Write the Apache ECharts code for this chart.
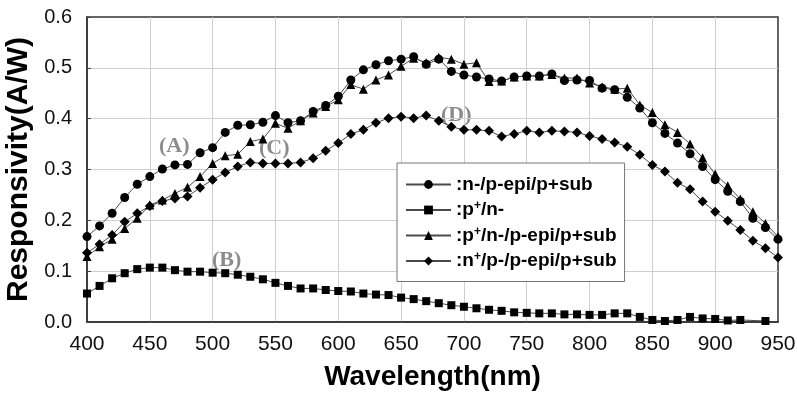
<!DOCTYPE html>
<html>
<head>
<meta charset="utf-8">
<script src="https://cdn.jsdelivr.net/npm/echarts@6/dist/echarts.min.js"></script>
<style>
  html, body { margin: 0; padding: 0; background: #fff; }
  #chart { width: 797px; height: 397px; }
</style>
</head>
<body>
<div id="chart"></div>
<script>
// wavelength (nm), one reading every 10 nm
var wavelength = [400, 410, 420, 430, 440, 450, 460, 470, 480, 490,
  500, 510, 520, 530, 540, 550, 560, 570, 580, 590,
  600, 610, 620, 630, 640, 650, 660, 670, 680, 690,
  700, 710, 720, 730, 740, 750, 760, 770, 780, 790,
  800, 810, 820, 830, 840, 850, 860, 870, 880, 890,
  900, 910, 920, 930, 940, 950];

// responsivity (A/W)
var nEpi = [0.168, 0.189, 0.214, 0.245, 0.271, 0.286, 0.301, 0.309, 0.310, 0.333,
  0.343, 0.373, 0.387, 0.388, 0.393, 0.406, 0.392, 0.396, 0.414, 0.426,
  0.444, 0.476, 0.496, 0.506, 0.514, 0.517, 0.522, 0.507, 0.517, 0.493,
  0.486, 0.482, 0.478, 0.474, 0.482, 0.484, 0.484, 0.488, 0.475, 0.476,
  0.475, 0.460, 0.457, 0.442, 0.421, 0.392, 0.371, 0.352, 0.331, 0.306,
  0.280, 0.257, 0.237, 0.204, 0.186, 0.163];

var pN = [0.056, 0.071, 0.086, 0.096, 0.104, 0.107, 0.107, 0.102, 0.099, 0.099,
  0.097, 0.096, 0.093, 0.089, 0.084, 0.077, 0.071, 0.066, 0.066, 0.063,
  0.061, 0.060, 0.056, 0.054, 0.053, 0.048, 0.045, 0.041, 0.037, 0.033,
  0.030, 0.027, 0.024, 0.022, 0.019, 0.018, 0.017, 0.017, 0.015, 0.015,
  0.014, 0.014, 0.017, 0.017, 0.010, 0.004, 0.002, 0.004, 0.010, 0.007,
  0.006, 0.003, 0.004, null, 0.002, null];

var pnEpi = [0.129, 0.148, 0.163, 0.184, 0.204, 0.230, 0.240, 0.253, 0.265, 0.286,
  0.312, 0.327, 0.330, 0.355, 0.360, 0.391, 0.381, 0.396, 0.411, 0.424,
  0.437, 0.467, 0.458, 0.476, 0.486, 0.503, 0.519, 0.510, 0.521, 0.517,
  0.507, 0.510, 0.473, 0.474, 0.482, 0.484, 0.484, 0.487, 0.480, 0.480,
  0.470, 0.463, 0.458, 0.460, 0.427, 0.412, 0.388, 0.373, 0.350, 0.323,
  0.291, 0.268, 0.242, 0.217, 0.194, 0.168];

var npEpi = [0.136, 0.153, 0.171, 0.197, 0.214, 0.228, 0.238, 0.243, 0.247, 0.264,
  0.280, 0.294, 0.306, 0.314, 0.312, 0.312, 0.312, 0.314, 0.322, 0.337,
  0.352, 0.370, 0.378, 0.392, 0.401, 0.404, 0.401, 0.406, 0.396, 0.384,
  0.378, 0.378, 0.376, 0.365, 0.370, 0.376, 0.373, 0.376, 0.375, 0.373,
  0.366, 0.360, 0.353, 0.345, 0.329, 0.309, 0.296, 0.274, 0.261, 0.237,
  0.217, 0.199, 0.181, 0.160, 0.145, 0.127];

var names = [':n-/p-epi/p+sub', ':p+/n-', ':p+/n-/p-epi/p+sub', ':n+/p-/p-epi/p+sub'];
var legendRich = {
  ':n-/p-epi/p+sub': '{t|:n-/p-epi/p+sub}',
  ':p+/n-': '{t|:p}{s|+}{t|/n-}',
  ':p+/n-/p-epi/p+sub': '{t|:p}{s|+}{t|/n-/p-epi/p+sub}',
  ':n+/p-/p-epi/p+sub': '{t|:n}{s|+}{t|/p-/p-epi/p+sub}'
};
var notes = ['(A)', '(B)', '(C)', '(D)'];

function pairs(vals) {
  return wavelength.map(function (w, i) { return [w, vals[i]]; });
}

function lineSeries(name, vals, symbol, size) {
  return {
    name: name,
    type: 'line',
    data: pairs(vals),
    symbol: symbol,
    symbolSize: size,
    connectNulls: true,
    lineStyle: { color: '#4a4a4a', width: 1 },
    itemStyle: { color: '#000' },
    emphasis: { disabled: true }
  };
}

var chart = echarts.init(document.getElementById('chart'));
var option = {
  animation: false,
  grid: {
    left: 87, right: 19, top: 17, bottom: 75,
    outerBoundsMode: 'none',
    show: true, borderColor: '#333', borderWidth: 1.5
  },
  legend: {
    data: names,
    orient: 'vertical',
    left: 397, top: 163,
    padding: [12, 8, 11, 8],
    itemGap: 6,
    itemWidth: 45, itemHeight: 11,
    backgroundColor: '#fff',
    borderColor: '#777', borderWidth: 1,
    formatter: function (name) { return legendRich[name]; },
    textStyle: {
      rich: {
        t: { fontFamily: 'Liberation Sans, Arial', fontWeight: 'bold', fontSize: 19, lineHeight: 20, color: '#000' },
        s: { fontFamily: 'Liberation Sans, Arial', fontWeight: 'bold', fontSize: 12, lineHeight: 20, verticalAlign: 'top', color: '#000' }
      }
    }
  },
  xAxis: {
    type: 'value',
    min: 400, max: 950, interval: 50,
    name: 'Wavelength(nm)',
    nameLocation: 'middle',
    nameGap: 41,
    nameTextStyle: { fontFamily: 'Liberation Sans, Arial', fontWeight: 'bold', fontSize: 28, color: '#000' },
    axisLine: { show: true, lineStyle: { color: '#333', width: 1.5 } },
    axisTick: { show: false },
    axisLabel: { margin: 12, fontFamily: 'Liberation Sans, Arial', fontSize: 21, color: '#111' },
    splitLine: { showMinLine: false, showMaxLine: false, lineStyle: { color: '#cfcfcf', width: 1 } }
  },
  yAxis: {
    type: 'value',
    min: 0, max: 0.6, interval: 0.1,
    name: 'Responsivity(A/W)',
    nameLocation: 'middle',
    nameGap: 48,
    nameTextStyle: { fontFamily: 'Liberation Sans, Arial', fontWeight: 'bold', fontSize: 30, color: '#000' },
    axisLine: { show: true, lineStyle: { color: '#333', width: 1.5 } },
    axisTick: { show: true, inside: true, length: 4, lineStyle: { color: '#444' } },
    axisLabel: {
      margin: 15, fontFamily: 'Liberation Sans, Arial', fontSize: 20, color: '#111',
      formatter: function (v) { return v.toFixed(1); }
    },
    splitLine: { showMinLine: false, showMaxLine: false, lineStyle: { color: '#cfcfcf', width: 1 } }
  },
  graphic: [
    { type: 'text', left: 159, top: 135, style: { text: notes[0], font: 'bold 22px "Liberation Serif"', fill: '#8c8c8c' } },
    { type: 'text', left: 212, top: 249, style: { text: notes[1], font: 'bold 22px "Liberation Serif"', fill: '#8c8c8c' } },
    { type: 'text', left: 259, top: 137, style: { text: notes[2], font: 'bold 22px "Liberation Serif"', fill: '#8c8c8c' } },
    { type: 'text', left: 441, top: 104, style: { text: notes[3], font: 'bold 22px "Liberation Serif"', fill: '#8c8c8c' } }
  ],
  series: [
    lineSeries(names[0], nEpi, 'circle', 9),
    lineSeries(names[1], pN, 'rect', 8),
    lineSeries(names[2], pnEpi, 'triangle', 9),
    lineSeries(names[3], npEpi, 'diamond', 10)
  ]
};
chart.setOption(option);
</script>
</body>
</html>
